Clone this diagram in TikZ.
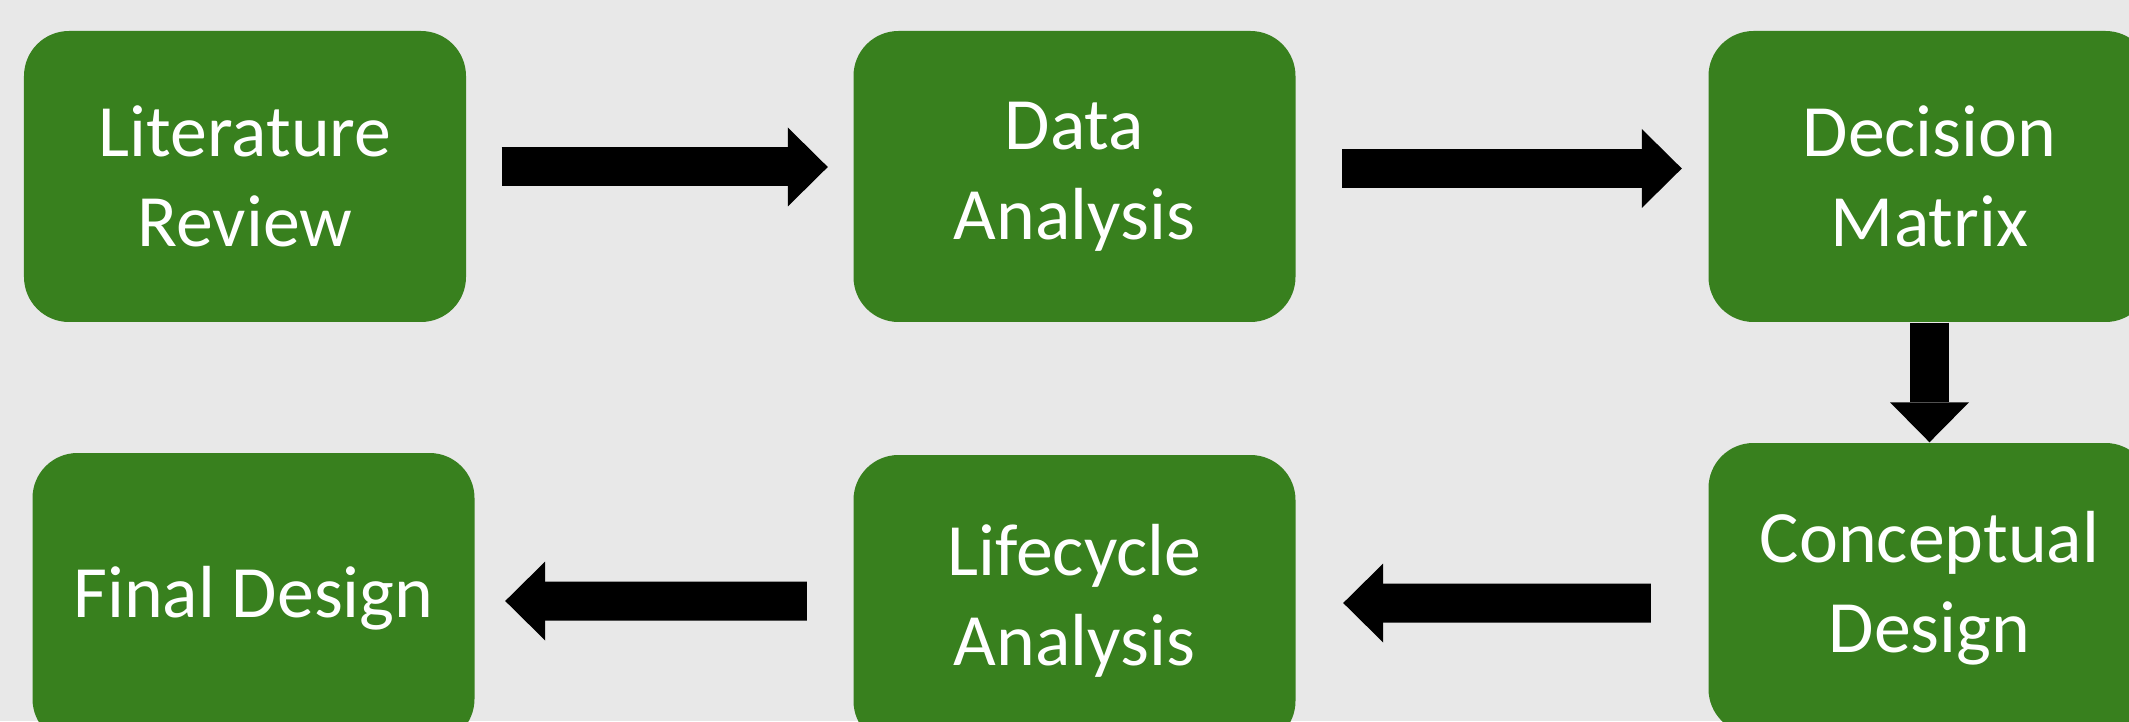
\documentclass[tikz,border=0pt]{standalone}
\usepackage{fontspec}
\setmainfont{Carlito}
\usetikzlibrary{arrows.meta,calc}
\definecolor{stagegreen}{HTML}{38801E}
\definecolor{slidegray}{HTML}{E8E8E8}

\begin{document}
\begin{tikzpicture}[x=1cm,y=1cm,
  stage/.style={fill=stagegreen,rounded corners=0.45cm,minimum width=4.42cm,minimum height=2.91cm,inner sep=0pt,
    text=white,align=center,font=\fontsize{21}{25.6}\selectfont},
  flow/.style={line width=0.39cm,-{Triangle[length=0.40cm,width=0.79cm,line width=0pt]}}]
\useasboundingbox (0,0) rectangle (21.29,7.21);
\fill[slidegray] (0,0) rectangle (21.29,7.21);
\clip (0,0) rectangle (21.29,7.21);
% top row
\node[stage] (lit) at (2.45,5.445) {Literature\\Review};
\node[stage] (data) at (10.745,5.445) {Data\\Analysis};
\node[stage] (dec) at (19.295,5.445) {Decision\\Matrix};
% bottom row
\node[stage] (conc) at (19.295,1.325) {Conceptual\\Design};
\node[stage] (life) at (10.745,1.205) {Lifecycle\\Analysis};
\node[stage] (fin) at (2.535,1.225) {Final Design};
\draw[flow] ($(lit.east)+(0.35,0.095)$)--($(data.west)+(-0.25,0.095)$);
\draw[flow] ($(data.east)+(0.46,0.08)$)--($(dec.west)+(-0.26,0.08)$);
\draw[flow] (dec.south)--(conc.north);
\draw[flow] ($(conc.west)+(-0.57,-0.145)$)--($(life.east)+(0.47,-0.025)$);
\draw[flow] ($(life.west)+(-0.46,-0.005)$)--($(fin.east)+(0.30,-0.025)$);
\end{tikzpicture}
\end{document}
